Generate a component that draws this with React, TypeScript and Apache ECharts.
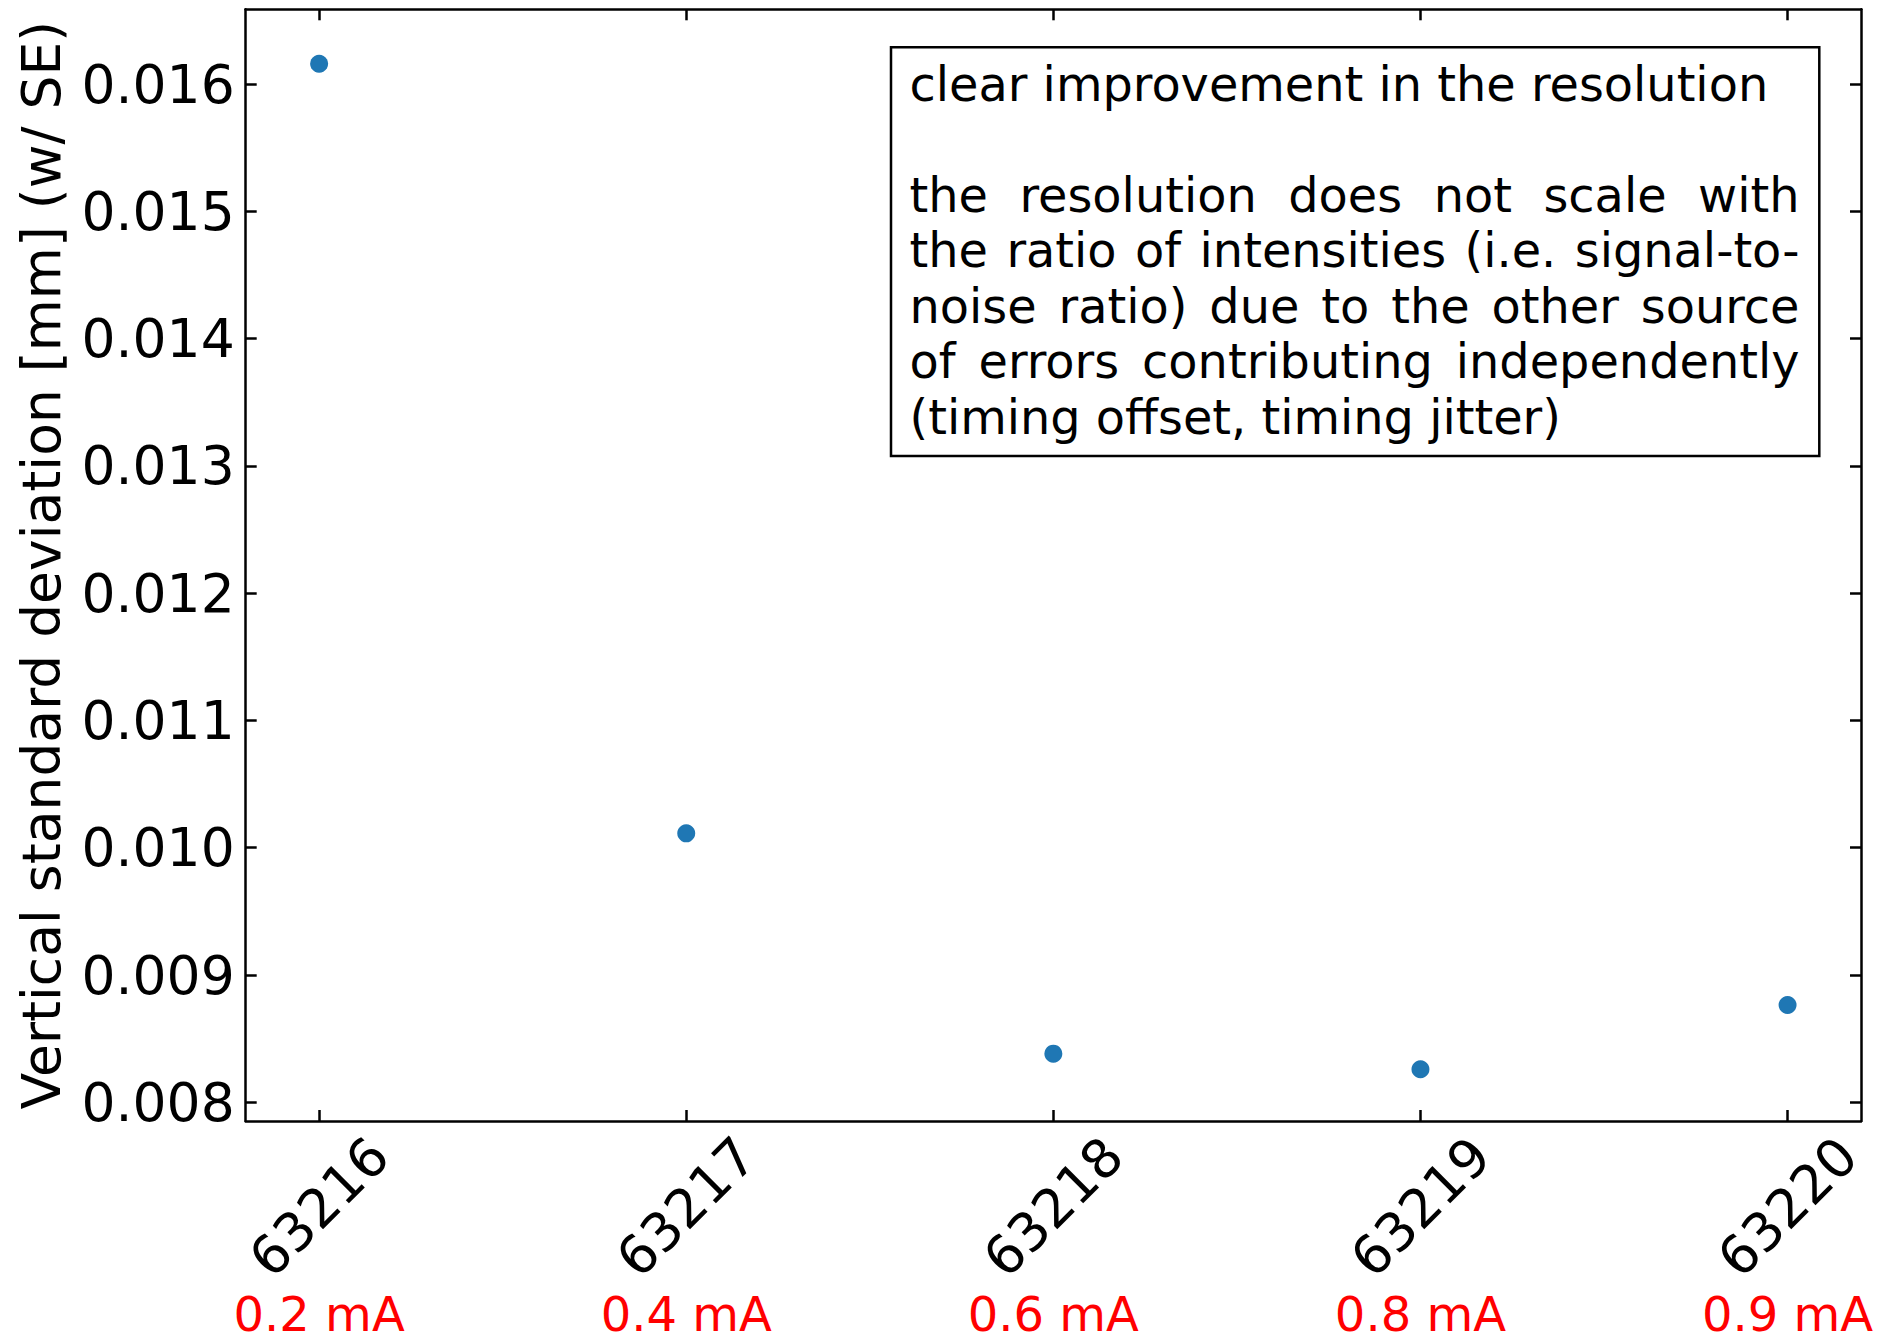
import React, { useEffect, useRef } from "react";
import * as echarts from "echarts";

// Run numbers (x categories) and the beam current of each run
const runIds = ["63216", "63217", "63218", "63219", "63220"];
const beamCurrents = ["0.2 mA", "0.4 mA", "0.6 mA", "0.8 mA", "0.9 mA"];

// Vertical standard deviation [mm] per run
const verticalStd = [0.016159, 0.010113, 0.008382, 0.008259, 0.008764];

// Axis ticks and limits
const xTicks = [0, 1, 2, 3, 4];
const yTicks = [0.008, 0.009, 0.01, 0.011, 0.012, 0.013, 0.014, 0.015, 0.016];
const xLimits = [-0.2, 4.2];
const yLimits = [0.007853, 0.016587];

// Annotation text, line by line (justified lines are spread to the full width)
const noteLines = [
  { text: "clear improvement in the resolution", justify: false },
  { text: "", justify: false },
  { text: "the resolution does not scale with", justify: true },
  { text: "the ratio of intensities (i.e. signal-to-", justify: true },
  { text: "noise ratio) due to the other source", justify: true },
  { text: "of errors contributing independently", justify: true },
  { text: "(timing offset, timing jitter)", justify: false },
];

const W = 1884;
const H = 1333;
const FONT = "DejaVu Sans";

const NOTE_FONT = 47.8;
const NOTE_X0 = 909.5;
const NOTE_X1 = 1799.5;
const NOTE_BASE = 101;
const NOTE_STEP = 55.5;

function buildNote() {
  const ctx = document.createElement("canvas").getContext("2d");
  if (ctx) ctx.font = `${NOTE_FONT}px "${FONT}"`;
  const measure = (s: string) => (ctx ? ctx.measureText(s).width : s.length * NOTE_FONT * 0.55);
  const els: any[] = [
    {
      type: "rect",
      shape: { x: 891, y: 47.3, width: 928.3, height: 408.7 },
      style: { fill: "#ffffff", stroke: "#000000", lineWidth: 2.5 },
      z: 10,
    },
  ];
  const textStyle = (text: string) => ({
    text,
    fontSize: NOTE_FONT,
    fontFamily: FONT,
    fill: "#000000",
    align: "left",
    verticalAlign: "middle",
  });
  noteLines.forEach((line, i) => {
    if (!line.text) return;
    const y = NOTE_BASE + i * NOTE_STEP - 0.346 * NOTE_FONT;
    if (!line.justify) {
      els.push({ type: "text", x: NOTE_X0, y, style: textStyle(line.text), z: 11 });
      return;
    }
    const words = line.text.split(" ");
    const widths = words.map(measure);
    const total = widths.reduce((a, b) => a + b, 0);
    const gap = (NOTE_X1 - NOTE_X0 - total) / (words.length - 1);
    let x = NOTE_X0;
    words.forEach((w, k) => {
      els.push({ type: "text", x, y, style: textStyle(w), z: 11 });
      x += widths[k] + gap;
    });
  });
  return els;
}

export default function App() {
  const ref = useRef<HTMLDivElement>(null);

  useEffect(() => {
    const el = ref.current;
    if (!el) return;
    const chart = echarts.init(el, null, { renderer: "svg", width: W, height: H });

    const frameLine = { show: true, onZero: false, lineStyle: { color: "#000000", width: 2.5 } };
    const innerTick = { show: true, inside: true, length: 11, lineStyle: { color: "#000000", width: 2.5 } };

    const option: any = {
      animation: false,
      backgroundColor: "#ffffff",
      grid: {
        left: 245.7,
        top: 9.3,
        right: W - 1861,
        bottom: H - 1121,
        containLabel: false,
        outerBoundsMode: "none",
      },
      xAxis: [
        {
          type: "value",
          position: "bottom",
          min: xLimits[0],
          max: xLimits[1],
          axisLine: frameLine,
          axisTick: { ...innerTick, customValues: xTicks },
          splitLine: { show: false },
          axisLabel: {
            customValues: xTicks,
            formatter: (v: number) => runIds[Math.round(v)] ?? "",
            rotate: 45,
            align: "center",
            verticalAlign: "middle",
            margin: 86,
            fontSize: 53.5,
            fontFamily: FONT,
            color: "#000000",
          },
        },
        {
          type: "value",
          position: "top",
          min: xLimits[0],
          max: xLimits[1],
          axisLine: frameLine,
          axisTick: { ...innerTick, customValues: xTicks },
          splitLine: { show: false },
          axisLabel: { show: false },
        },
        {
          type: "value",
          position: "bottom",
          min: xLimits[0],
          max: xLimits[1],
          axisLine: { show: false, onZero: false },
          axisTick: { show: false },
          splitLine: { show: false },
          axisLabel: {
            customValues: xTicks,
            formatter: (v: number) => beamCurrents[Math.round(v)] ?? "",
            margin: 175,
            fontSize: 48,
            lineHeight: 36,
            fontFamily: FONT,
            color: "#ff0000",
          },
        },
      ],
      yAxis: [
        {
          type: "value",
          position: "left",
          min: yLimits[0],
          max: yLimits[1],
          axisLine: frameLine,
          axisTick: { ...innerTick, customValues: yTicks },
          splitLine: { show: false },
          axisLabel: {
            customValues: yTicks,
            formatter: (v: number) => v.toFixed(3),
            margin: 11,
            fontSize: 53.5,
            fontFamily: FONT,
            color: "#000000",
          },
          name: "Vertical standard deviation [mm] (w/ SE)",
          nameLocation: "middle",
          nameGap: 177,
          nameTextStyle: { fontSize: 53.5, fontFamily: FONT, color: "#000000" },
        },
        {
          type: "value",
          position: "right",
          min: yLimits[0],
          max: yLimits[1],
          axisLine: frameLine,
          axisTick: { ...innerTick, customValues: yTicks },
          splitLine: { show: false },
          axisLabel: { show: false },
        },
      ],
      series: [
        {
          type: "scatter",
          xAxisIndex: 0,
          yAxisIndex: 0,
          symbol: "circle",
          symbolSize: 18,
          itemStyle: { color: "#1f77b4", opacity: 1 },
          data: verticalStd.map((v, i) => [i, v]),
          z: 5,
        },
      ],
      graphic: buildNote(),
    };

    chart.setOption(option);
    return () => chart.dispose();
  }, []);

  return (
    <div
      ref={ref}
      style={{ position: "fixed", left: 0, top: 0, width: W, height: H, background: "#ffffff" }}
    />
  );
}
